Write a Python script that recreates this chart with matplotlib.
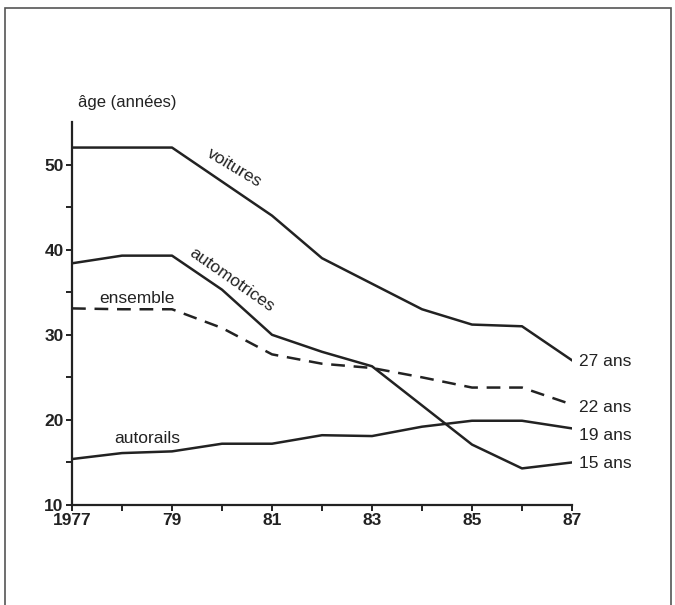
import matplotlib.pyplot as plt
from matplotlib.patches import Rectangle

plt.rcParams['font.family'] = ['Liberation Sans Narrow', 'Liberation Sans', 'DejaVu Sans']

# années 1977 -> 1987
annees = [1977, 1978, 1979, 1980, 1981, 1982, 1983, 1984, 1985, 1986, 1987]
voitures = [52.0, 52.0, 52.0, 48.0, 44.0, 39.0, 36.0, 33.0, 31.2, 31.0, 27.0]
automotrices = [38.4, 39.3, 39.3, 35.3, 30.0, 28.0, 26.3, 21.7, 17.1, 14.3, 15.0]
ensemble = [33.1, 33.0, 33.0, 30.8, 27.7, 26.6, 26.1, 25.0, 23.8, 23.8, 21.8]
autorails = [15.4, 16.1, 16.3, 17.2, 17.2, 18.2, 18.1, 19.2, 19.9, 19.9, 19.0]

fin_labels = ['27 ans', '22 ans', '19 ans', '15 ans']
fin_y = [26.9, 21.4, 18.2, 14.9]
xtick_pos = [1977, 1979, 1981, 1983, 1985, 1987]
xtick_lab = ['1977', '79', '81', '83', '85', '87']
ytick_pos = [10, 20, 30, 40, 50]

col = '#222222'

fig = plt.figure(figsize=(6.75, 6.05), dpi=100)
ax = fig.add_axes([0.1067, 0.1653, 0.7407, 0.633])

ax.plot(annees, voitures, color=col, lw=1.8)
ax.plot(annees, automotrices, color=col, lw=1.8)
ax.plot(annees, ensemble, color=col, lw=1.8, dashes=(5.5, 3.5))
ax.plot(annees, autorails, color=col, lw=1.8)

ax.set_xlim(1977, 1987)
ax.set_ylim(10, 55)
for s in ['top', 'right']:
    ax.spines[s].set_visible(False)
for s in ['left', 'bottom']:
    ax.spines[s].set_linewidth(1.6)
    ax.spines[s].set_color(col)

ax.set_xticks(xtick_pos)
ax.set_xticklabels(xtick_lab, fontsize=12.5, fontweight='bold', color=col)
ax.set_xticks(annees, minor=True)
ax.set_yticks(ytick_pos)
ax.set_yticklabels([str(v) for v in ytick_pos], fontsize=12.5, fontweight='bold', color=col)
ax.set_yticks(range(10, 55, 5), minor=True)
ax.tick_params(which='both', length=4, width=1.4, color=col, pad=2)

# étiquettes des courbes
ax.text(1980.25, 49.6, 'voitures', rotation=-31, fontsize=12.5, color=col,
        ha='center', va='center', rotation_mode='anchor')
ax.text(1980.2, 36.4, 'automotrices', rotation=-35, fontsize=12.5, color=col,
        ha='center', va='center', rotation_mode='anchor')
ax.text(1978.3, 34.3, 'ensemble', fontsize=12.5, color=col, ha='center', va='center')
ax.text(1978.5, 17.8, 'autorails', fontsize=12.5, color=col, ha='center', va='center')

for lab, yv in zip(fin_labels, fin_y):
    ax.text(1987.15, yv, lab, fontsize=12.5, color=col, ha='left', va='center')

ax.text(1977.12, 57.3, 'âge (années)', fontsize=12, color=col, ha='left', va='center')

# cadre de la page
fig.patches.append(Rectangle((0.008, -0.05), 0.986, 1.037, transform=fig.transFigure,
                             fill=False, ec='#555555', lw=1.2))

fig.savefig('out.png', dpi=100)
